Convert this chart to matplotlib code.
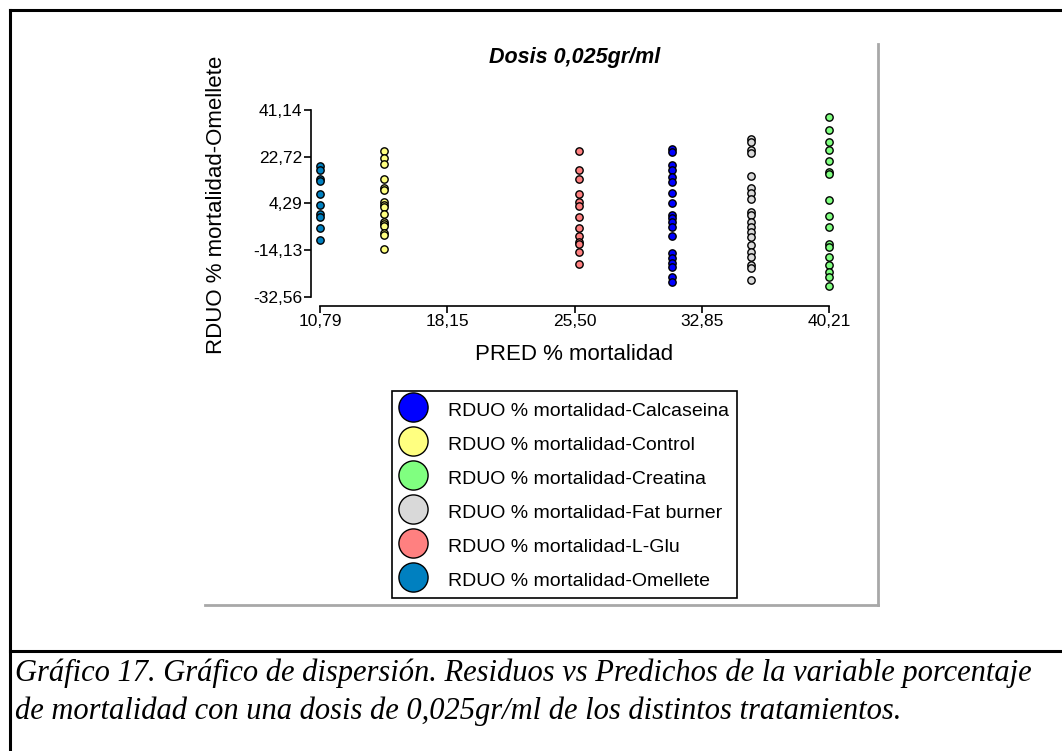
import matplotlib
matplotlib.use("Agg")
import matplotlib.pyplot as plt
from matplotlib.lines import Line2D

plt.rcParams['font.family'] = ['Liberation Sans', 'DejaVu Sans']

# predicted values (x) per treatment and their residuals (y)
treatments = ["Calcaseina", "Control", "Creatina", "Fat burner", "L-Glu", "Omellete"]
colors = ["#0000ff", "#ffff80", "#80ff80", "#d9d9d9", "#ff8080", "#0080c0"]
pred = [31.13, 14.49, 40.21, 35.69, 25.75, 10.79]

res_calcaseina = [25.64, 24.69, 19.44, 17.47, 14.59, 12.86, 8.52, 4.34, -0.28, -1.58,
                  -2.92, -4.90, -8.56, -15.39, -17.36, -19.33, -20.67, -24.62, -26.59]
res_control = [24.97, 22.09, 19.72, 13.92, 10.25, 9.58, 4.97, 3.66, 3.00, 0.0,
               -2.92, -3.83, -4.50, -7.26, -8.17, -13.69]
res_creatina = [38.26, 33.25, 28.40, 25.36, 21.02, 16.80, 15.89, 5.64, -0.56, -4.90,
                -11.72, -12.78, -16.73, -20.00, -22.65, -24.62, -28.29]
res_fatburner = [29.58, 28.64, 25.36, 24.06, 15.10, 10.25, 8.28, 6.03, 1.02, -0.28,
                 -2.92, -4.90, -6.87, -8.84, -12.11, -14.76, -16.73, -20.00, -21.31, -25.92]
res_lglu = [24.97, 17.47, 13.92, 7.89, 4.97, 3.27, -1.19, -5.53, -8.45, -10.81,
            -11.72, -14.76, -19.73]
res_omellete = [19.17, 17.47, 13.92, 13.13, 7.89, 3.66, 0.0, -0.95, -5.29, -10.26]
residuals = [res_calcaseina, res_control, res_creatina, res_fatburner, res_lglu, res_omellete]

xticks = [10.79, 18.15, 25.50, 32.85, 40.21]
yticks = [41.14, 22.72, 4.29, -14.13, -32.56]

W, H = 1062, 751
fig = plt.figure(figsize=(W / 100, H / 100), dpi=100)

# pixel box of the axes
left, right, top, bottom = 310.7, 840, 100, 306
ax = fig.add_axes([left / W, 1 - bottom / H, (right - left) / W, (bottom - top) / H])

for name, c, x, ys in zip(treatments, colors, pred, residuals):
    ax.scatter([x] * len(ys), ys, s=28, c=c, edgecolors='black', linewidths=1.0, zorder=3)

ax.set_xlim(10.253, 40.83)
ax.set_ylim(-36.23, 45.08)
ax.set_xticks(xticks)
ax.set_xticklabels([f"{v:.2f}".replace('.', ',') for v in xticks])
ax.set_yticks(yticks)
ax.set_yticklabels([f"{v:.2f}".replace('.', ',') for v in yticks])
ax.spines['top'].set_visible(False)
ax.spines['right'].set_visible(False)
ax.spines['left'].set_bounds(-32.56, 41.14)
ax.spines['bottom'].set_bounds(10.79, 40.21)
for s in ['left', 'bottom']:
    ax.spines[s].set_linewidth(1.2)
ax.tick_params(length=5, width=1.2, labelsize=12.5, pad=1)

fig.text(575 / W, 1 - 57 / H, "Dosis 0,025gr/ml", fontsize=15.5, fontweight='bold',
         fontstyle='italic', ha='center', va='center')
fig.text(216 / W, 1 - 205 / H, "RDUO % mortalidad-Omellete", fontsize=16,
         rotation=90, ha='center', va='center')
fig.text(574 / W, 1 - 355 / H, "PRED % mortalidad", fontsize=16, ha='center', va='center')

handles = [Line2D([], [], linestyle='none', marker='o', markersize=21,
                  markerfacecolor=c, markeredgecolor='black', markeredgewidth=1)
           for c in colors]
labels = ["RDUO % mortalidad-" + t for t in treatments]
leg = fig.legend(handles, labels, loc='upper left',
                 bbox_to_anchor=(392 / W, 1 - 391 / H), fontsize=14,
                 frameon=True, fancybox=False, edgecolor='black', framealpha=1,
                 handlelength=1.4, handleheight=1.3, labelspacing=0.66,
                 handletextpad=1.1, borderpad=0.4, borderaxespad=0)
leg.get_frame().set_linewidth(1.2)

# gray outer frame of the chart and black document frame
fig.add_artist(Line2D([205 / W, 878 / W], [1 - 605 / H, 1 - 605 / H], color='#a8a8a8', lw=2))
fig.add_artist(Line2D([878 / W, 878 / W], [1 - 44 / H, 1 - 605 / H], color='#a8a8a8', lw=2))
fig.add_artist(Line2D([10 / W, 1], [1 - 10 / H, 1 - 10 / H], color='black', lw=2.2))
fig.add_artist(Line2D([10 / W, 10 / W], [1 - 10 / H, 0], color='black', lw=2.2))
fig.add_artist(Line2D([10 / W, 1], [1 - 651 / H, 1 - 651 / H], color='black', lw=2.2))

caption = ("Gráfico 17. Gráfico de dispersión. Residuos vs Predichos de la variable porcentaje\n"
           "de mortalidad con una dosis de 0,025gr/ml de los distintos tratamientos.")
fig.text(15 / W, 1 - 692 / H, caption, fontsize=22, fontstyle='italic',
         family='Liberation Serif', ha='left', va='center', linespacing=1.4)

fig.savefig("out.png", dpi=100)
